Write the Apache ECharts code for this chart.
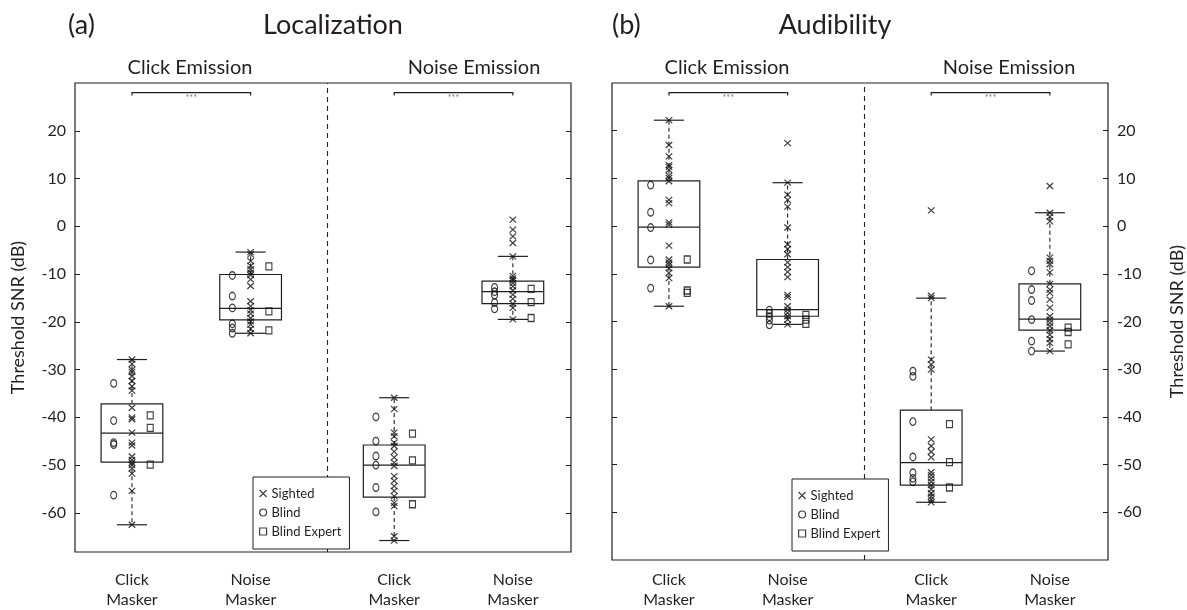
<!DOCTYPE html>
<html><head><meta charset="utf-8">
<script src="https://cdn.jsdelivr.net/npm/echarts@6/dist/echarts.min.js"></script>
<style>html,body{margin:0;padding:0;background:#fff}#c{width:1187px;height:610px}</style>
</head><body><div id="c"></div>
<script>
// ---------- data ----------
const categories = ['Click\nMasker', 'Noise\nMasker', 'Click\nMasker', 'Noise\nMasker'];
const positions = [1, 2, 3.21, 4.21];
const emissions = ['Click Emission', 'Noise Emission'];
const panelTitles = ['Localization', 'Audibility'];
const panelLetters = ['(a)', '(b)'];
const yTicks = [-60, -50, -40, -30, -20, -10, 0, 10, 20];
const groupNames = ['Sighted', 'Blind', 'Blind Expert'];
const sigPairs = [[0, 1], [2, 3]];
const sigValue = 28;
const sigLabel = '***';
const yLabel = 'Threshold SNR (dB)';

// box stats: [lower whisker, Q1, median, Q3, upper whisker]
const locBoxes = [
  [-62.5, -49.4, -43.3, -37.2, -27.9],
  [-22.4, -19.6, -17.2, -10.1, -5.4],
  [-65.8, -56.7, -50.0, -45.8, -35.9],
  [-19.5, -16.2, -13.7, -11.5, -6.3]
];
const locSighted = [
  [-27.9, -28.8, -30.0, -30.5, -31.4, -32.4, -33.5, -34.4, -38.0, -40.0, -40.4, -43.2, -45.3, -45.9, -48.2, -48.9, -49.5, -50.0, -50.7, -51.8, -55.4, -62.5],
  [-5.4, -5.9, -7.3, -8.3, -9.0, -9.7, -10.2, -11.1, -12.5, -15.7, -16.7, -17.6, -18.3, -19.2, -19.9, -20.6, -21.5, -22.4],
  [-35.9, -38.3, -43.2, -44.0, -45.3, -46.0, -47.2, -48.4, -49.5, -50.2, -52.3, -53.3, -54.4, -55.4, -56.5, -57.9, -58.6, -64.9, -65.8],
  [1.4, -0.7, -2.1, -3.5, -6.3, -10.4, -10.9, -11.3, -11.9, -12.6, -13.4, -14.3, -15.2, -16.2, -17.1, -19.5]
];
const locBlind = [
  [-32.9, -40.7, -45.3, -45.7, -56.3],
  [-10.3, -14.6, -17.1, -20.4, -21.3, -22.4],
  [-39.9, -45.0, -48.1, -50.0, -54.7, -59.8],
  [-12.8, -13.7, -14.4, -16.0, -17.3]
];
const locExpert = [
  [-39.6, -42.2, -49.9],
  [-8.4, -17.8, -21.8],
  [-43.4, -49.0, -58.2],
  [-13.1, -15.9, -19.2]
];

const audBoxes = [
  [-16.8, -8.6, -0.2, 9.5, 22.2],
  [-20.6, -18.9, -17.5, -7.0, 9.1],
  [-57.9, -54.3, -49.6, -38.6, -15.1],
  [-26.2, -21.8, -19.5, -12.1, 2.8]
];
const audSighted = [
  [22.2, 17.0, 14.6, 12.8, 12.4, 11.8, 10.6, 10.1, 9.4, 5.5, 4.8, 0.8, 0.3, -4.1, -7.0, -7.6, -8.1, -8.8, -9.8, -10.9, -16.8],
  [17.4, 9.1, 6.6, 5.5, 4.1, -0.3, -3.8, -4.8, -5.9, -7.6, -8.6, -9.6, -10.7, -14.4, -14.9, -16.8, -17.5, -18.2, -18.9, -19.6, -20.6],
  [3.3, -14.6, -15.1, -28.0, -29.0, -30.1, -44.7, -46.1, -47.3, -48.5, -51.6, -52.2, -52.9, -53.6, -54.3, -55.2, -56.0, -56.7, -57.3, -57.9],
  [8.4, 2.8, 2.0, 1.0, -6.6, -7.3, -8.0, -9.7, -12.1, -13.3, -14.0, -15.4, -17.1, -18.9, -19.6, -20.3, -21.0, -21.8, -22.8, -23.7, -24.5, -26.2]
];
const audBlind = [
  [8.6, 2.9, -0.3, -7.1, -13.0],
  [-17.6, -18.3, -19.0, -19.7, -20.7],
  [-30.4, -31.5, -41.0, -48.4, -51.7, -52.9, -53.6],
  [-9.4, -13.3, -15.6, -19.6, -24.1, -26.2]
];
const audExpert = [
  [-7.0, -13.5, -14.0],
  [-18.6, -19.6, -20.5],
  [-41.5, -49.5, -54.8],
  [-21.3, -22.2, -24.8]
];

// ---------- style / layout ----------
const FONT = 'Lato';
const INK = '#231f20';
const BOX_HALF = 0.26, CAP_HALF = 0.127, GROUP_OFF = 0.154, DIVIDER = 2.645;
const X_MIN = 0.52, X_MAX = 4.70;
const X_PATH = 'path://M0,0L10,10M10,0L0,10';

function pts(groups, offset) {
  const out = [];
  groups.forEach((g, i) => g.forEach(v => out.push([positions[i] + offset, v])));
  return out;
}
function boxData(boxes) { return boxes.map((b, i) => [positions[i]].concat(b)); }
function sigData() { return sigPairs.map(p => [positions[p[0]], positions[p[1]], sigValue]); }

function renderBox(params, api) {
  const x = api.value(0);
  const lo = api.coord([x, api.value(1)]);
  const q1 = api.coord([x, api.value(2)]);
  const md = api.coord([x, api.value(3)]);
  const q3 = api.coord([x, api.value(4)]);
  const hi = api.coord([x, api.value(5)]);
  const hb = api.size([BOX_HALF, 0])[0];
  const hc = api.size([CAP_HALF, 0])[0];
  const cx = lo[0];
  const solid = { stroke: INK, lineWidth: 1.2, fill: 'none' };
  const dashed = { stroke: INK, lineWidth: 1.1, lineDash: [4, 3], fill: 'none' };
  return {
    type: 'group', children: [
      { type: 'rect', shape: { x: cx - hb, y: q3[1], width: 2 * hb, height: q1[1] - q3[1] }, style: solid },
      { type: 'line', shape: { x1: cx - hb, y1: md[1], x2: cx + hb, y2: md[1] }, style: solid },
      { type: 'line', shape: { x1: cx, y1: q3[1], x2: cx, y2: hi[1] }, style: dashed },
      { type: 'line', shape: { x1: cx, y1: q1[1], x2: cx, y2: lo[1] }, style: dashed },
      { type: 'line', shape: { x1: cx - hc, y1: hi[1], x2: cx + hc, y2: hi[1] }, style: solid },
      { type: 'line', shape: { x1: cx - hc, y1: lo[1], x2: cx + hc, y2: lo[1] }, style: solid }
    ]
  };
}
function renderSig(params, api) {
  const a = api.coord([api.value(0), api.value(2)]);
  const b = api.coord([api.value(1), api.value(2)]);
  const drop = 3;
  return {
    type: 'group', children: [
      { type: 'polyline', shape: { points: [[a[0], a[1] + drop], [a[0], a[1]], [b[0], b[1]], [b[0], b[1] + drop]] },
        style: { stroke: INK, lineWidth: 1.2, fill: 'none' } },
      { type: 'text', x: (a[0] + b[0]) / 2, y: a[1] + 1,
        style: { text: sigLabel, fill: '#7a7a7a', font: '9px ' + FONT, align: 'center', verticalAlign: 'top', textAlign: 'center', textVerticalAlign: 'top' } }
    ]
  };
}

const markerStyle = { color: 'rgba(0,0,0,0)', borderColor: '#111', borderWidth: 1.2 };
function panelSeries(p, boxes, sighted, blind, expert) {
  const xi = p, yi = p * 2;
  return [
    { type: 'custom', name: 'box' + p, xAxisIndex: xi, yAxisIndex: yi, silent: true, renderItem: renderBox,
      encode: { x: 0, y: [1, 2, 3, 4, 5] }, data: boxData(boxes), z: 2 },
    { type: 'custom', name: 'sig' + p, xAxisIndex: xi, yAxisIndex: yi, silent: true, renderItem: renderSig,
      encode: { x: [0, 1], y: 2 }, data: sigData(), z: 2 },
    { type: 'scatter', name: groupNames[0], xAxisIndex: xi, yAxisIndex: yi, symbol: X_PATH, symbolSize: [6.5, 6],
      itemStyle: markerStyle, data: pts(sighted, 0), silent: true, z: 3,
      markLine: { silent: true, symbol: ['none', 'none'], label: { show: false },
        lineStyle: { color: INK, width: 1.1, type: [5, 4] }, data: [{ xAxis: DIVIDER }] } },
    { type: 'scatter', name: groupNames[1], xAxisIndex: xi, yAxisIndex: yi, symbol: 'circle', symbolSize: [6, 7.5],
      itemStyle: markerStyle, data: pts(blind, -GROUP_OFF), silent: true, z: 3 },
    { type: 'scatter', name: groupNames[2], xAxisIndex: xi, yAxisIndex: yi, symbol: 'rect', symbolSize: [6, 7],
      itemStyle: markerStyle, data: pts(expert, GROUP_OFF), silent: true, z: 3 }
  ];
}

function xAxisOpt(g, margin) {
  return {
    gridIndex: g, type: 'value', min: X_MIN, max: X_MAX,
    axisLine: { show: false }, axisTick: { show: false }, splitLine: { show: false },
    axisLabel: { customValues: positions, formatter: v => categories[positions.indexOf(v)] || '',
      fontFamily: FONT, fontSize: 16, lineHeight: 20, color: INK, margin: margin }
  };
}
function yAxisOpt(g, pos, min, showLabels, nameGap) {
  const o = {
    gridIndex: g, type: 'value', position: pos, min: min, max: 30,
    axisLine: { show: false }, splitLine: { show: false },
    axisTick: { show: true, inside: true, length: 5, customValues: yTicks, lineStyle: { color: INK, width: 1 } },
    axisLabel: { show: showLabels, customValues: yTicks, fontFamily: FONT, fontSize: 16, color: INK, margin: 9 }
  };
  if (showLabels) {
    o.name = yLabel; o.nameLocation = 'middle'; o.nameGap = nameGap; o.nameRotate = 90;
    o.nameTextStyle = { fontFamily: FONT, fontSize: 18, color: INK };
  }
  return o;
}
function legendOpt(left, top) {
  return {
    left: left, top: top, orient: 'vertical', data: groupNames, selectedMode: false,
    backgroundColor: '#fff', borderColor: INK, borderWidth: 1, borderRadius: 0,
    padding: [10, 8, 11, 6], itemGap: 6, itemWidth: 7, itemHeight: 7,
    itemStyle: { borderWidth: 1.2 },
    textStyle: { fontFamily: FONT, fontSize: 13, lineHeight: 13, color: INK }, z: 10
  };
}
function titleOpt(text, left, top, size, align) {
  return { text: text, left: left, top: top, padding: 0, textAlign: align, textVerticalAlign: 'top',
    textStyle: { fontFamily: FONT, fontSize: size, fontWeight: 'normal', color: INK } };
}

const option = {
  animation: false,
  backgroundColor: '#fff',
  title: [
    titleOpt(panelLetters[0], 68, 12, 27, 'left'),
    titleOpt(panelTitles[0], 333, 12, 27, 'center'),
    titleOpt(emissions[0], 190, 58, 20, 'center'),
    titleOpt(emissions[1], 474, 58, 20, 'center'),
    titleOpt(panelLetters[1], 612, 12, 27, 'left'),
    titleOpt(panelTitles[1], 835, 12, 27, 'center'),
    titleOpt(emissions[0], 727, 58, 20, 'center'),
    titleOpt(emissions[1], 1009, 58, 20, 'center')
  ],
  legend: [legendOpt(253, 477), legendOpt(792, 479)],
  grid: [
    { left: 75, top: 83, width: 496, height: 470, show: true, borderColor: INK, borderWidth: 1.2, backgroundColor: 'transparent' },
    { left: 612, top: 83, width: 496, height: 478, show: true, borderColor: INK, borderWidth: 1.2, backgroundColor: 'transparent' }
  ],
  xAxis: [xAxisOpt(0, 18), xAxisOpt(1, 10)],
  yAxis: [
    yAxisOpt(0, 'left', -68.2, true, 48),
    yAxisOpt(0, 'right', -68.2, false, 0),
    yAxisOpt(1, 'left', -70, false, 0),
    yAxisOpt(1, 'right', -70, true, 60)
  ],
  series: panelSeries(0, locBoxes, locSighted, locBlind, locExpert)
    .concat(panelSeries(1, audBoxes, audSighted, audBlind, audExpert))
};

const chart = echarts.init(document.getElementById('c'), null, { renderer: 'canvas' });
chart.setOption(option);
</script>
</body></html>
